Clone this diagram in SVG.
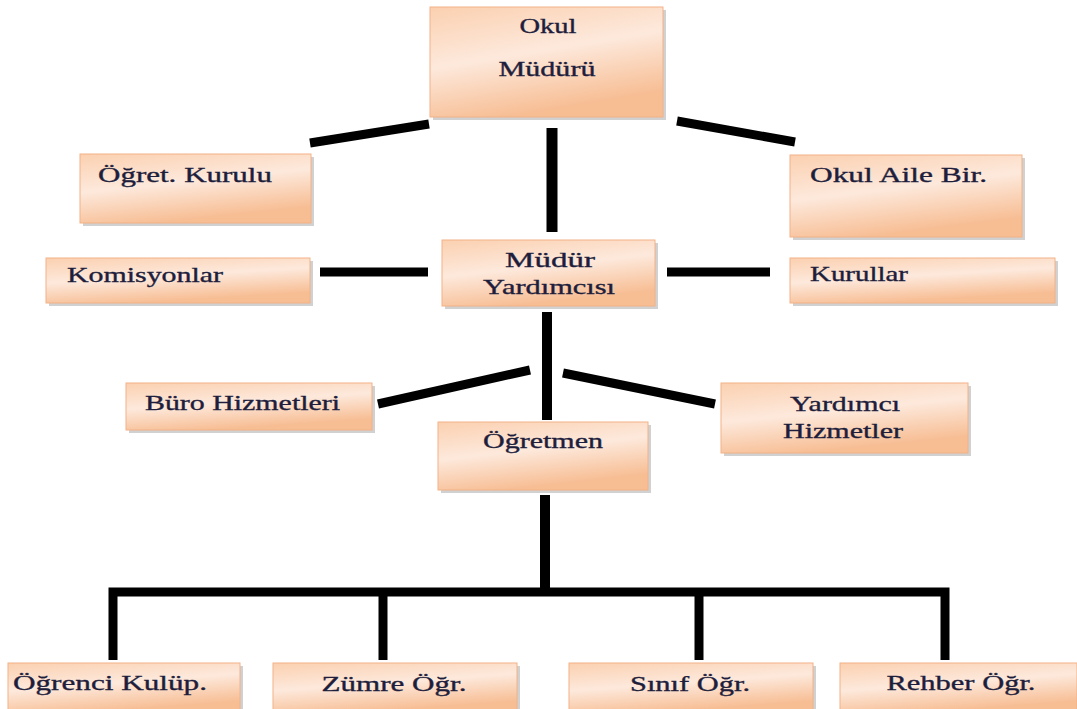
<svg xmlns="http://www.w3.org/2000/svg" width="1077" height="709" viewBox="0 0 1077 709">
<defs>
<linearGradient id="g" x1="0" y1="0" x2="0.35" y2="1">
<stop offset="0" stop-color="#fbd0b0"/>
<stop offset="0.5" stop-color="#fde9dc"/>
<stop offset="1" stop-color="#f7bd93"/>
</linearGradient>
</defs>
<style>
.box{fill:url(#g);stroke:#f3b287;stroke-width:1}
.sh{fill:#9a9a9a;opacity:0.45}
.t{font-family:"Liberation Serif","Times New Roman",serif;font-size:21px;fill:#1e1e3c;stroke:#1e1e3c;stroke-width:0.35}
.c{stroke:#000;stroke-width:9;fill:none;stroke-linecap:butt}
</style>
<rect width="1077" height="709" fill="#ffffff"/>
<g id="connectors">
<line class="c" x1="429" y1="124" x2="310" y2="143"/>
<line class="c" x1="677" y1="121" x2="795" y2="142"/>
<line class="c" x1="552" y1="128" x2="552" y2="232" style="stroke-width:11"/>
<line class="c" x1="320" y1="272" x2="428" y2="272"/>
<line class="c" x1="667" y1="272" x2="770" y2="272"/>
<line class="c" x1="547" y1="312" x2="547" y2="420" style="stroke-width:10"/>
<line class="c" x1="378" y1="404" x2="530" y2="370"/>
<line class="c" x1="563" y1="373" x2="715" y2="404"/>
<line class="c" x1="545" y1="495" x2="545" y2="592" style="stroke-width:10"/>
<polyline class="c" points="113,660 113,592 945,592 945,660"/>
<line class="c" x1="383" y1="592" x2="383" y2="660"/>
<line class="c" x1="699" y1="592" x2="699" y2="660"/>
</g>
<g id="okul-muduru">
<rect class="sh" x="433" y="10" width="233" height="110"/>
<rect class="box" x="430" y="7" width="233" height="110"/>
<text class="t" x="548" y="33" text-anchor="middle" textLength="57" lengthAdjust="spacingAndGlyphs">Okul</text>
<text class="t" x="547" y="76" text-anchor="middle" textLength="97" lengthAdjust="spacingAndGlyphs">Müdürü</text>
</g>
<g id="ogret-kurulu">
<rect class="sh" x="83" y="157" width="231" height="69"/>
<rect class="box" x="80" y="154" width="231" height="69"/>
<text class="t" x="98" y="182" textLength="174" lengthAdjust="spacingAndGlyphs">Öğret. Kurulu</text>
</g>
<g id="okul-aile-bir">
<rect class="sh" x="793" y="158" width="232" height="82"/>
<rect class="box" x="790" y="155" width="232" height="82"/>
<text class="t" x="810" y="182" textLength="177" lengthAdjust="spacingAndGlyphs">Okul Aile Bir.</text>
</g>
<g id="komisyonlar">
<rect class="sh" x="49" y="261" width="264" height="45"/>
<rect class="box" x="46" y="258" width="264" height="45"/>
<text class="t" x="67" y="282" textLength="156" lengthAdjust="spacingAndGlyphs">Komisyonlar</text>
</g>
<g id="mudur-yardimcisi">
<rect class="sh" x="445" y="243" width="213" height="66"/>
<rect class="box" x="442" y="240" width="213" height="66"/>
<text class="t" x="550" y="267" text-anchor="middle" textLength="90" lengthAdjust="spacingAndGlyphs">Müdür</text>
<text class="t" x="549" y="294" text-anchor="middle" textLength="132" lengthAdjust="spacingAndGlyphs">Yardımcısı</text>
</g>
<g id="kurullar">
<rect class="sh" x="793" y="261" width="265" height="45"/>
<rect class="box" x="790" y="258" width="265" height="45"/>
<text class="t" x="810" y="281" textLength="98" lengthAdjust="spacingAndGlyphs">Kurullar</text>
</g>
<g id="buro-hizmetleri">
<rect class="sh" x="129" y="386" width="246" height="47"/>
<rect class="box" x="126" y="383" width="246" height="47"/>
<text class="t" x="145" y="410" textLength="195" lengthAdjust="spacingAndGlyphs">Büro Hizmetleri</text>
</g>
<g id="yardimci-hizmetler">
<rect class="sh" x="724" y="386" width="247" height="70"/>
<rect class="box" x="721" y="383" width="247" height="70"/>
<text class="t" x="845" y="411" text-anchor="middle" textLength="110" lengthAdjust="spacingAndGlyphs">Yardımcı</text>
<text class="t" x="843" y="438" text-anchor="middle" textLength="120" lengthAdjust="spacingAndGlyphs">Hizmetler</text>
</g>
<g id="ogretmen">
<rect class="sh" x="441" y="425" width="210" height="68"/>
<rect class="box" x="438" y="422" width="210" height="68"/>
<text class="t" x="543" y="448" text-anchor="middle" textLength="120" lengthAdjust="spacingAndGlyphs">Öğretmen</text>
</g>
<g id="ogrenci-kulup">
<rect class="sh" x="11" y="666" width="232" height="50"/>
<rect class="box" x="8" y="663" width="232" height="50"/>
<text class="t" x="13" y="690" textLength="194" lengthAdjust="spacingAndGlyphs">Öğrenci Kulüp.</text>
</g>
<g id="zumre-ogr">
<rect class="sh" x="276" y="666" width="244" height="50"/>
<rect class="box" x="273" y="663" width="244" height="50"/>
<text class="t" x="394" y="691" text-anchor="middle" textLength="145" lengthAdjust="spacingAndGlyphs">Zümre Öğr.</text>
</g>
<g id="sinif-ogr">
<rect class="sh" x="572" y="666" width="244" height="50"/>
<rect class="box" x="569" y="663" width="244" height="50"/>
<text class="t" x="690" y="691" text-anchor="middle" textLength="120" lengthAdjust="spacingAndGlyphs">Sınıf Öğr.</text>
</g>
<g id="rehber-ogr">
<rect class="sh" x="843" y="666" width="237" height="50"/>
<rect class="box" x="840" y="663" width="237" height="50"/>
<text class="t" x="961" y="690" text-anchor="middle" textLength="149" lengthAdjust="spacingAndGlyphs">Rehber Öğr.</text>
</g>
</svg>
